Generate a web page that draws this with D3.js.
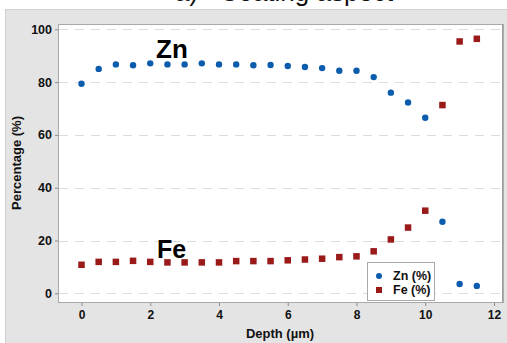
<!DOCTYPE html>
<html>
<head>
<meta charset="utf-8">
<script src="https://cdn.jsdelivr.net/npm/d3@7"></script>
<style>
  html, body { margin: 0; padding: 0; background: #ffffff; }
  svg { display: block; font-family: "Liberation Sans", Arial, sans-serif; }
</style>
</head>
<body>
<svg id="chart" width="507" height="343"></svg>
<script>
// Depth profile of the coating: Zn and Fe content (%) against depth (µm)
const depths = [0, 0.5, 1, 1.5, 2, 2.5, 3, 3.5, 4, 4.5, 5, 5.5, 6, 6.5, 7, 7.5, 8, 8.5, 9, 9.5, 10, 10.5, 11, 11.5];
const znValues = [79.4, 85.0, 86.7, 86.4, 87.1, 86.7, 86.7, 87.1, 86.7, 86.7, 86.4, 86.5, 86.1, 85.7, 85.3, 84.3, 84.3, 81.9, 76.0, 72.3, 66.5, 27.1, 3.5, 2.8];
const feValues = [10.8, 11.9, 11.9, 12.3, 11.9, 11.7, 11.7, 11.7, 11.7, 12.2, 12.2, 12.2, 12.5, 12.8, 13.1, 13.7, 14.0, 15.9, 20.4, 24.9, 31.3, 71.3, 95.4, 96.4];
const xTicks = [0, 2, 4, 6, 8, 10, 12];
const yTicks = [0, 20, 40, 60, 80, 100];
const seriesNames = ["Zn (%)", "Fe (%)"];
const chartTitle = "a)   Coating aspect";
const xTitle = "Depth (µm)";
const yTitle = "Percentage (%)";

const znColor = "#0b5cad";
const feColor = "#9a1a1a";

const svg = d3.select("#chart");
const W = 507, H = 343;
const plot = { left: 58, top: 24, right: 502, bottom: 302 };

// outer grey panel
svg.append("rect")
  .attr("x", 5.5).attr("y", 9.5)
  .attr("width", W - 5).attr("height", H - 9)
  .attr("fill", "#e4e4e4").attr("stroke", "#cfcfcf").attr("stroke-width", 1);

// title (sits partly above the top edge)
svg.append("text")
  .attr("x", 284).attr("y", 1)
  .attr("text-anchor", "middle")
  .attr("font-size", 26)
  .attr("fill", "#111")
  .attr("xml:space", "preserve")
  .style("white-space", "pre")
  .text(chartTitle);

const x = d3.scaleLinear().domain([0, 12]).range([81.5, 494]);
const y = d3.scaleLinear().domain([0, 100]).range([293.3, 29.3]);

// plot area
svg.append("rect")
  .attr("x", plot.left + 0.5).attr("y", plot.top + 0.5)
  .attr("width", plot.right - plot.left).attr("height", plot.bottom - plot.top)
  .attr("fill", "#ffffff").attr("stroke", "#a9a9a9").attr("stroke-width", 1);
// darker right edge
svg.append("line")
  .attr("x1", plot.right + 1).attr("x2", plot.right + 1)
  .attr("y1", plot.top).attr("y2", plot.bottom + 1)
  .attr("stroke", "#9a9a9a").attr("stroke-width", 1.5);

// horizontal dashed gridlines
svg.append("g").selectAll("line")
  .data(yTicks)
  .join("line")
  .attr("x1", plot.left + 1).attr("x2", plot.right)
  .attr("y1", d => Math.round(y(d)) + 0.5).attr("y2", d => Math.round(y(d)) + 0.5)
  .attr("stroke", "#dcdcdc").attr("stroke-width", 1)
  .attr("stroke-dasharray", "9,7");

// axes
const yAxis = d3.axisLeft(y).tickValues(yTicks).tickSize(3).tickPadding(3);
const gy = svg.append("g").attr("transform", `translate(${plot.left},0)`).call(yAxis);
gy.select(".domain").remove();
gy.selectAll(".tick line").attr("stroke", "#8a8a8a");
gy.selectAll(".tick text")
  .attr("font-size", 12.5).attr("font-weight", "bold").attr("fill", "#111")
  .attr("font-family", "Liberation Sans, Arial, sans-serif");

const xAxis = d3.axisBottom(x).tickValues(xTicks).tickSize(3).tickPadding(4);
const gx = svg.append("g").attr("transform", `translate(0,${plot.bottom + 1})`).call(xAxis);
gx.select(".domain").remove();
gx.selectAll(".tick line").attr("stroke", "#8a8a8a");
gx.selectAll(".tick text")
  .attr("font-size", 12).attr("font-weight", "bold").attr("fill", "#111")
  .attr("font-family", "Liberation Sans, Arial, sans-serif");

// axis titles
svg.append("text")
  .attr("x", 280).attr("y", 338)
  .attr("text-anchor", "middle")
  .attr("font-size", 13).attr("font-weight", "bold").attr("fill", "#111")
  .text(xTitle);
svg.append("text")
  .attr("transform", "translate(21,163) rotate(-90)")
  .attr("text-anchor", "middle")
  .attr("font-size", 13).attr("font-weight", "bold").attr("fill", "#111")
  .text(yTitle);

// series
const sq = 6.5;
svg.append("g").selectAll("rect")
  .data(depths.map((d, i) => [d, feValues[i]]))
  .join("rect")
  .attr("x", d => x(d[0]) - sq / 2).attr("y", d => y(d[1]) - sq / 2)
  .attr("width", sq).attr("height", sq)
  .attr("fill", feColor);

svg.append("g").selectAll("circle")
  .data(depths.map((d, i) => [d, znValues[i]]))
  .join("circle")
  .attr("cx", d => x(d[0])).attr("cy", d => y(d[1]))
  .attr("r", 3.2)
  .attr("fill", znColor);

// in-plot labels
svg.append("text")
  .attr("x", 156).attr("y", 58)
  .attr("font-size", 26).attr("font-weight", "bold").attr("fill", "#000")
  .text("Zn");
svg.append("text")
  .attr("x", 157).attr("y", 258)
  .attr("font-size", 25).attr("font-weight", "bold").attr("fill", "#000")
  .text("Fe");

// legend
const lg = svg.append("g").attr("transform", "translate(367,262)");
lg.append("rect")
  .attr("x", 0.5).attr("y", 0.5).attr("width", 67).attr("height", 38)
  .attr("fill", "#ffffff").attr("stroke", "#a9a9a9");
lg.append("circle").attr("cx", 12).attr("cy", 14).attr("r", 3).attr("fill", znColor);
lg.append("rect").attr("x", 9).attr("y", 25).attr("width", 6).attr("height", 6).attr("fill", feColor);
lg.selectAll("text.lbl")
  .data(seriesNames)
  .join("text")
  .attr("class", "lbl")
  .attr("x", 26).attr("y", (d, i) => 18 + i * 14)
  .attr("font-size", 12.5).attr("font-weight", "bold").attr("fill", "#111")
  .text(d => d);
</script>
</body>
</html>
